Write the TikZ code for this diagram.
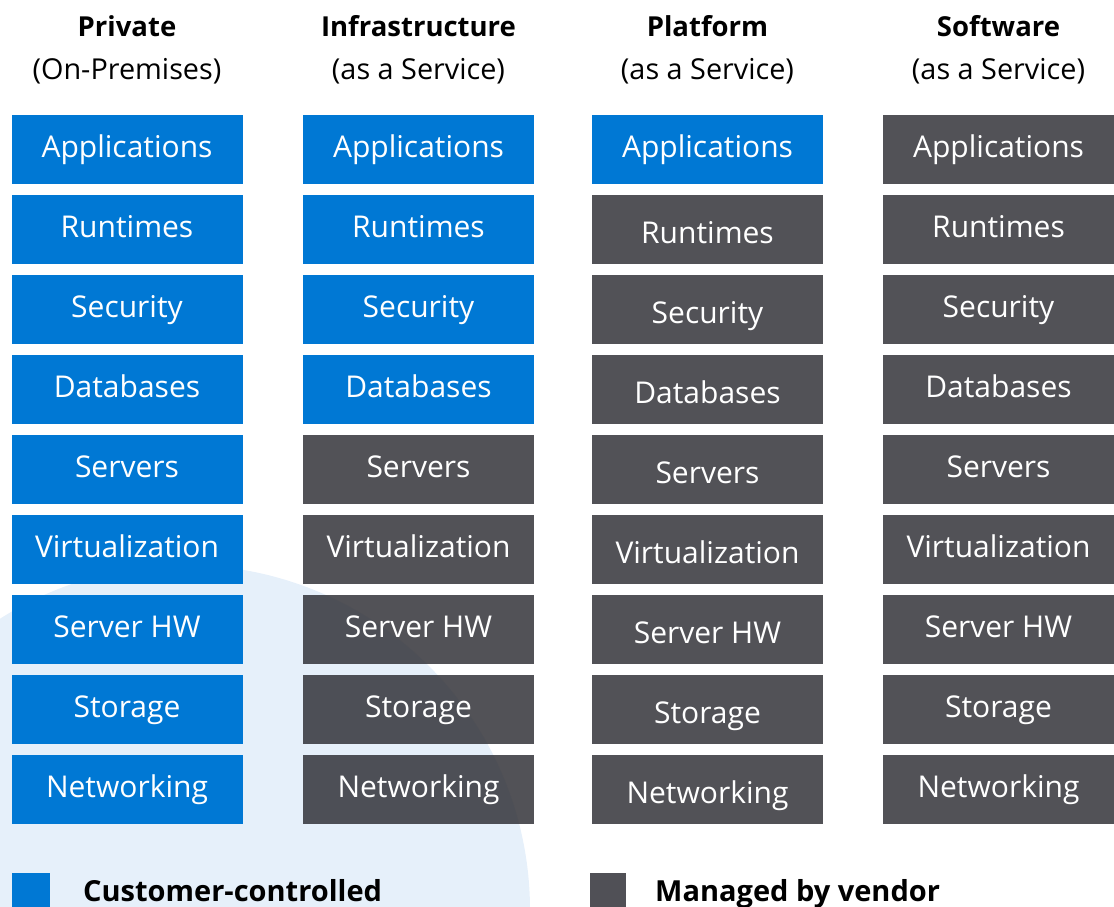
\documentclass[tikz,border=0pt]{standalone}
\usepackage{fontspec}
\setmainfont{Open Sans}
\definecolor{msblue}{RGB}{0,120,212}
\definecolor{vendorgrey}{RGB}{44,44,50}
\definecolor{legendgrey}{RGB}{80,80,86}
\definecolor{halo}{RGB}{230,240,250}
\tikzset{
  cell/.style={minimum width=231pt, minimum height=69pt, inner sep=0pt, text=white,
    font=\fontsize{30}{35}\selectfont, text height=22pt, text depth=7pt},
  cust/.style={cell, fill=msblue},
  vend/.style={cell, fill=vendorgrey, fill opacity=0.82, text opacity=1},
  vendlow/.style={vend, text height=34pt},
  headtitle/.style={anchor=base, font=\fontsize{27.5}{32}\selectfont\bfseries},
  headsub/.style={anchor=base, font=\fontsize{28.8}{33}\selectfont},
  legtext/.style={anchor=base west, inner xsep=0pt, font=\fontsize{29}{33}\selectfont\bfseries},
}
\begin{document}
\begin{tikzpicture}[x=1pt, y=-1pt]
\useasboundingbox (0,0) rectangle (1114,907);
\begin{scope}
  \clip (0,0) rectangle (1114,907);
  \fill[halo] (185,910) circle (345);
\end{scope}
% headers
\node[headtitle] (h1) at (127,37) {Private};
\node[headsub]   (s1) at (127,79) {(On-Premises)};
\node[headtitle] (h2) at (418.5,37) {Infrastructure};
\node[headsub]   (s2) at (418.5,79) {(as a Service)};
\node[headtitle] (h3) at (707.5,37) {Platform};
\node[headsub]   (s3) at (707.5,79) {(as a Service)};
\node[headtitle] (h4) at (998.5,37) {Software};
\node[headsub]   (s4) at (998.5,79) {(as a Service)};
% column 1: Private
\node[cust] (a1) at (127,149.5) {Applications};
\node[cust] (a2) at (127,229.5) {Runtimes};
\node[cust] (a3) at (127,309.5) {Security};
\node[cust] (a4) at (127,389.5) {Databases};
\node[cust] (a5) at (127,469.5) {Servers};
\node[cust] (a6) at (127,549.5) {Virtualization};
\node[cust] (a7) at (127,629.5) {Server HW};
\node[cust] (a8) at (127,709.5) {Storage};
\node[cust] (a9) at (127,789.5) {Networking};
% column 2: IaaS
\node[cust] (b1) at (418.5,149.5) {Applications};
\node[cust] (b2) at (418.5,229.5) {Runtimes};
\node[cust] (b3) at (418.5,309.5) {Security};
\node[cust] (b4) at (418.5,389.5) {Databases};
\node[vend] (b5) at (418.5,469.5) {Servers};
\node[vend] (b6) at (418.5,549.5) {Virtualization};
\node[vend] (b7) at (418.5,629.5) {Server HW};
\node[vend] (b8) at (418.5,709.5) {Storage};
\node[vend] (b9) at (418.5,789.5) {Networking};
% column 3: PaaS
\node[cust] (c1) at (707.5,149.5) {Applications};
\node[vendlow] (c2) at (707.5,229.5) {Runtimes};
\node[vendlow] (c3) at (707.5,309.5) {Security};
\node[vendlow] (c4) at (707.5,389.5) {Databases};
\node[vendlow] (c5) at (707.5,469.5) {Servers};
\node[vendlow] (c6) at (707.5,549.5) {Virtualization};
\node[vendlow] (c7) at (707.5,629.5) {Server HW};
\node[vendlow] (c8) at (707.5,709.5) {Storage};
\node[vendlow] (c9) at (707.5,789.5) {Networking};
% column 4: SaaS
\node[vend] (d1) at (998.5,149.5) {Applications};
\node[vend] (d2) at (998.5,229.5) {Runtimes};
\node[vend] (d3) at (998.5,309.5) {Security};
\node[vend] (d4) at (998.5,389.5) {Databases};
\node[vend] (d5) at (998.5,469.5) {Servers};
\node[vend] (d6) at (998.5,549.5) {Virtualization};
\node[vend] (d7) at (998.5,629.5) {Server HW};
\node[vend] (d8) at (998.5,709.5) {Storage};
\node[vend] (d9) at (998.5,789.5) {Networking};
% legend
\fill[msblue] (12,873) rectangle (50,910);
\node[legtext] (l1) at (83,901) {Customer-controlled};
\fill[legendgrey] (590,873) rectangle (626,910);
\node[legtext] (l2) at (655,901) {Managed by vendor};
\end{tikzpicture}
\end{document}
